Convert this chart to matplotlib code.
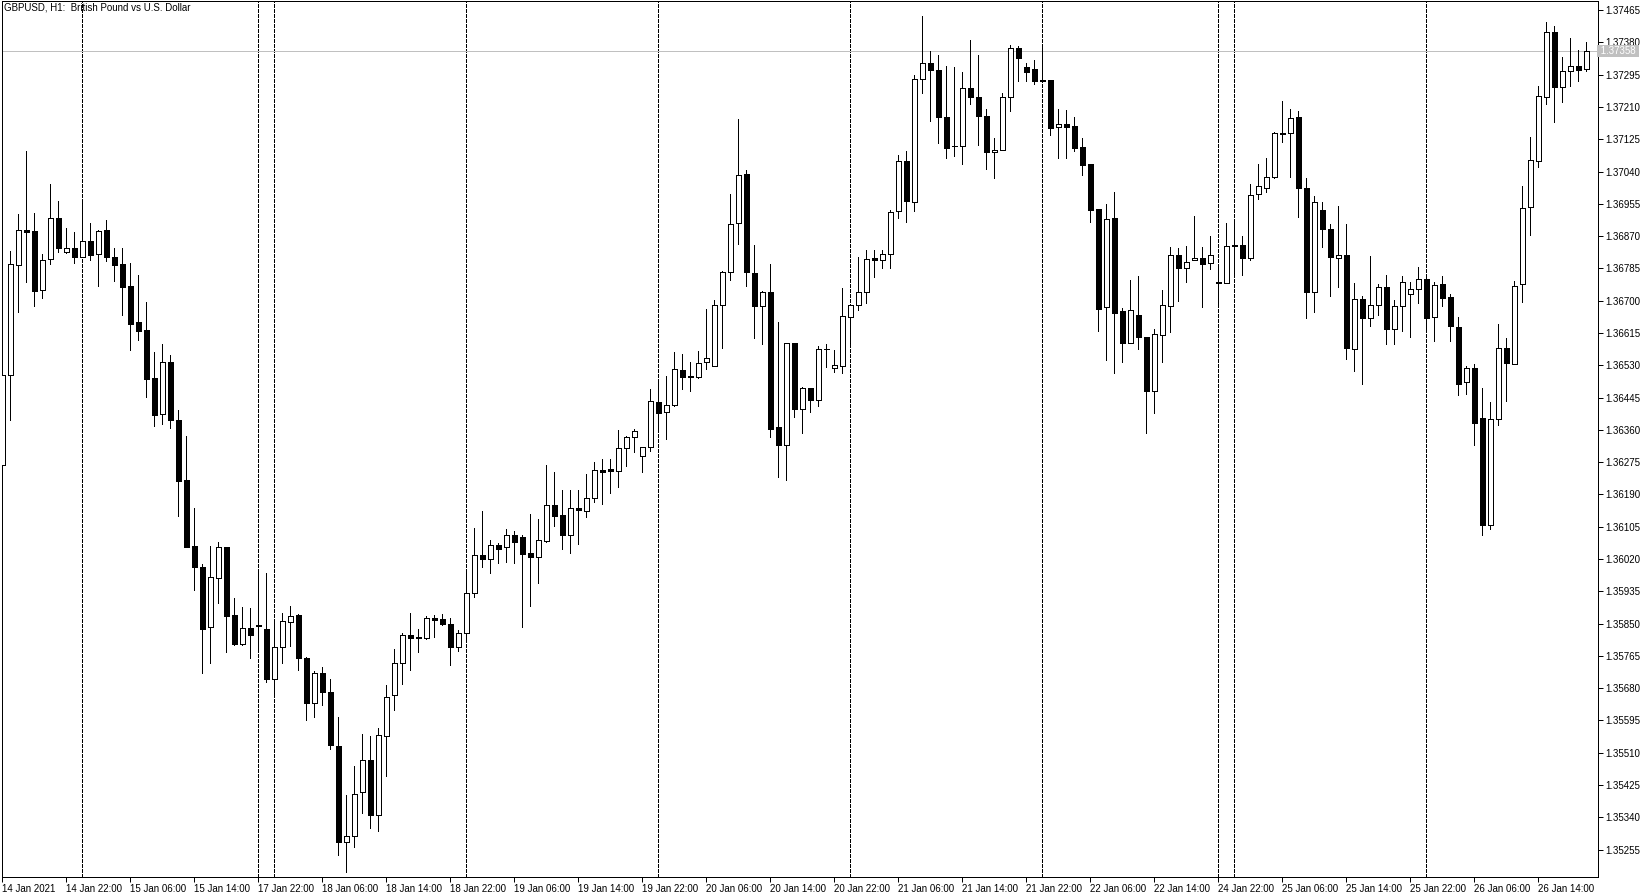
import matplotlib
matplotlib.use("Agg")
import matplotlib.pyplot as plt
import numpy as np

plt.rcParams['font.family'] = ['Liberation Sans Narrow', 'Liberation Sans', 'DejaVu Sans']

# GBPUSD H1, 14 Jan 14:00 .. 26 Jan 20:00
opens = [1.36268, 1.36504, 1.36793, 1.36886, 1.36883, 1.36727, 1.36809, 1.36918, 1.36829, 1.36838,
         1.36816, 1.36856, 1.36822, 1.36886, 1.36815, 1.36797, 1.36739, 1.36644, 1.36623, 1.36496,
         1.36401, 1.36540, 1.36386, 1.36228, 1.36055, 1.35999, 1.35840, 1.35971, 1.36051, 1.35872,
         1.35796, 1.35838, 1.35846, 1.35835, 1.35704, 1.35788, 1.35855, 1.35873, 1.35759, 1.35640,
         1.35719, 1.35669, 1.35528, 1.35276, 1.35292, 1.35406, 1.35491, 1.35345, 1.35555, 1.35661,
         1.35746, 1.35820, 1.35816, 1.35811, 1.35865, 1.35862, 1.35848, 1.35789, 1.35825, 1.35930,
         1.36030, 1.36021, 1.36056, 1.36051, 1.36082, 1.36077, 1.36035, 1.36026, 1.36068, 1.36161,
         1.36135, 1.36084, 1.36154, 1.36146, 1.36180, 1.36254, 1.36256, 1.36252, 1.36312, 1.36341,
         1.36291, 1.36314, 1.36433, 1.36406, 1.36425, 1.36518, 1.36502, 1.36498, 1.36538, 1.36529,
         1.36688, 1.36775, 1.36904, 1.37033, 1.36774, 1.36687, 1.36722, 1.36368, 1.36319, 1.36588,
         1.36416, 1.36469, 1.36439, 1.36572, 1.36522, 1.36529, 1.36658, 1.36690, 1.36724, 1.36813,
         1.36807, 1.36822, 1.36936, 1.37067, 1.36961, 1.37284, 1.37325, 1.37307, 1.37183, 1.37107,
         1.37107, 1.37259, 1.37237, 1.37187, 1.37092, 1.37098, 1.37237, 1.37364, 1.37314, 1.37309,
         1.37282, 1.37281, 1.37156, 1.37164, 1.37159, 1.37104, 1.37060, 1.36941, 1.36683, 1.36919,
         1.36673, 1.36590, 1.36663, 1.36605, 1.36463, 1.36611, 1.36687, 1.36820, 1.36785, 1.36806,
         1.36812, 1.36798, 1.36749, 1.36747, 1.36848, 1.36847, 1.36813, 1.36982, 1.36998, 1.37025,
         1.37142, 1.37142, 1.37183, 1.36998, 1.36724, 1.36940, 1.36890, 1.36812, 1.36820, 1.36572,
         1.36704, 1.36654, 1.36690, 1.36737, 1.36625, 1.36687, 1.36717, 1.36730, 1.36756, 1.36656,
         1.36743, 1.36709, 1.36630, 1.36485, 1.36523, 1.36391, 1.36110, 1.36388, 1.36575, 1.36533,
         1.36744, 1.36946, 1.37068, 1.37236, 1.37407, 1.37263, 1.37304, 1.37317, 1.37311]
highs = [1.36510, 1.36831, 1.36928, 1.37094, 1.36931, 1.36822, 1.37007, 1.36962, 1.36891, 1.36881,
         1.36969, 1.36905, 1.36886, 1.36912, 1.36839, 1.36839, 1.36798, 1.36768, 1.36696, 1.36566,
         1.36585, 1.36557, 1.36412, 1.36344, 1.36154, 1.36006, 1.36054, 1.36065, 1.36053, 1.35917,
         1.35893, 1.35890, 1.35989, 1.35983, 1.35862, 1.35877, 1.35897, 1.35876, 1.35761, 1.35724,
         1.35737, 1.35704, 1.35605, 1.35399, 1.35474, 1.35560, 1.35553, 1.35576, 1.35689, 1.35783,
         1.35826, 1.35879, 1.35835, 1.35870, 1.35873, 1.35875, 1.35864, 1.35833, 1.35991, 1.36101,
         1.36146, 1.36070, 1.36062, 1.36098, 1.36094, 1.36083, 1.36139, 1.36125, 1.36268, 1.36249,
         1.36202, 1.36202, 1.36202, 1.36244, 1.36276, 1.36283, 1.36283, 1.36360, 1.36344, 1.36362,
         1.36314, 1.36467, 1.36493, 1.36502, 1.36564, 1.36560, 1.36538, 1.36568, 1.36678, 1.36702,
         1.36778, 1.36981, 1.37178, 1.37045, 1.36847, 1.36726, 1.36796, 1.36644, 1.36590, 1.36590,
         1.36474, 1.36470, 1.36581, 1.36586, 1.36570, 1.36734, 1.36690, 1.36814, 1.36833, 1.36833,
         1.36833, 1.36940, 1.37083, 1.37094, 1.37293, 1.37449, 1.37357, 1.37347, 1.37318, 1.37314,
         1.37303, 1.37386, 1.37347, 1.37206, 1.37129, 1.37248, 1.37373, 1.37370, 1.37325, 1.37335,
         1.37377, 1.37281, 1.37206, 1.37202, 1.37183, 1.37128, 1.37060, 1.36941, 1.36954, 1.36985,
         1.36680, 1.36754, 1.36765, 1.36605, 1.36626, 1.36728, 1.36842, 1.36840, 1.36844, 1.36923,
         1.36842, 1.36870, 1.36794, 1.36904, 1.36904, 1.36870, 1.37006, 1.37061, 1.37075, 1.37145,
         1.37226, 1.37204, 1.37200, 1.37022, 1.36975, 1.36960, 1.36902, 1.36950, 1.36902, 1.36746,
         1.36712, 1.36818, 1.36743, 1.36768, 1.36702, 1.36765, 1.36750, 1.36788, 1.36761, 1.36749,
         1.36765, 1.36718, 1.36656, 1.36528, 1.36533, 1.36469, 1.36434, 1.36640, 1.36601, 1.36752,
         1.37003, 1.37131, 1.37266, 1.37435, 1.37422, 1.37342, 1.37391, 1.37361, 1.37380]
lows = [1.36255, 1.36386, 1.36671, 1.36750, 1.36687, 1.36708, 1.36797, 1.36829, 1.36826, 1.36800,
        1.36814, 1.36807, 1.36740, 1.36805, 1.36753, 1.36663, 1.36570, 1.36597, 1.36447, 1.36369,
        1.36376, 1.36366, 1.36132, 1.36051, 1.35939, 1.35721, 1.35746, 1.35905, 1.35776, 1.35794,
        1.35795, 1.35759, 1.35776, 1.35696, 1.35662, 1.35746, 1.35790, 1.35728, 1.35597, 1.35605,
        1.35636, 1.35519, 1.35241, 1.35197, 1.35261, 1.35351, 1.35313, 1.35303, 1.35450, 1.35623,
        1.35691, 1.35728, 1.35774, 1.35809, 1.35816, 1.35846, 1.35741, 1.35779, 1.35809, 1.35921,
        1.36000, 1.35983, 1.36009, 1.36011, 1.36009, 1.35842, 1.35897, 1.35958, 1.36066, 1.36107,
        1.36047, 1.36037, 1.36060, 1.36130, 1.36170, 1.36165, 1.36193, 1.36209, 1.36266, 1.36303,
        1.36250, 1.36305, 1.36360, 1.36336, 1.36423, 1.36468, 1.36463, 1.36497, 1.36519, 1.36528,
        1.36576, 1.36754, 1.36849, 1.36740, 1.36603, 1.36586, 1.36340, 1.36237, 1.36228, 1.36395,
        1.36353, 1.36408, 1.36424, 1.36526, 1.36512, 1.36509, 1.36583, 1.36676, 1.36693, 1.36763,
        1.36785, 1.36785, 1.36919, 1.36906, 1.36935, 1.37247, 1.37174, 1.37114, 1.37077, 1.37081,
        1.37059, 1.37218, 1.37111, 1.37046, 1.37024, 1.37096, 1.37200, 1.37279, 1.37279, 1.37270,
        1.37278, 1.37136, 1.37075, 1.37076, 1.37095, 1.37032, 1.36908, 1.36619, 1.36544, 1.36509,
        1.36540, 1.36588, 1.36572, 1.36353, 1.36405, 1.36540, 1.36617, 1.36700, 1.36750, 1.36806,
        1.36684, 1.36783, 1.36691, 1.36747, 1.36772, 1.36768, 1.36807, 1.36968, 1.36987, 1.37024,
        1.37118, 1.37026, 1.36921, 1.36654, 1.36671, 1.36842, 1.36712, 1.36737, 1.36546, 1.36516,
        1.36481, 1.36633, 1.36662, 1.36586, 1.36586, 1.36621, 1.36605, 1.36693, 1.36627, 1.36595,
        1.36687, 1.36595, 1.36451, 1.36455, 1.36320, 1.36083, 1.36098, 1.36372, 1.36435, 1.36533,
        1.36697, 1.36872, 1.37053, 1.37219, 1.37170, 1.37222, 1.37266, 1.37278, 1.37304]
closes = [1.36504, 1.36797, 1.36886, 1.36882, 1.36726, 1.36806, 1.36918, 1.36838, 1.36838, 1.36816,
          1.36856, 1.36820, 1.36884, 1.36816, 1.36795, 1.36737, 1.36638, 1.36621, 1.36495, 1.36400,
          1.36540, 1.36387, 1.36226, 1.36053, 1.36000, 1.35837, 1.35972, 1.36051, 1.35871, 1.35797,
          1.35838, 1.35819, 1.35843, 1.35704, 1.35789, 1.35857, 1.35871, 1.35759, 1.35640, 1.35719,
          1.35671, 1.35531, 1.35276, 1.35291, 1.35402, 1.35491, 1.35345, 1.35557, 1.35656, 1.35746,
          1.35820, 1.35811, 1.35813, 1.35864, 1.35860, 1.35848, 1.35789, 1.35825, 1.35930, 1.36030,
          1.36019, 1.36056, 1.36047, 1.36082, 1.36066, 1.36034, 1.36026, 1.36069, 1.36161, 1.36133,
          1.36084, 1.36154, 1.36148, 1.36180, 1.36255, 1.36250, 1.36251, 1.36312, 1.36341, 1.36356,
          1.36314, 1.36435, 1.36404, 1.36425, 1.36519, 1.36500, 1.36498, 1.36535, 1.36548, 1.36688,
          1.36776, 1.36901, 1.37032, 1.36776, 1.36687, 1.36722, 1.36363, 1.36319, 1.36588, 1.36416,
          1.36469, 1.36439, 1.36572, 1.36573, 1.36532, 1.36660, 1.36690, 1.36722, 1.36809, 1.36807,
          1.36822, 1.36933, 1.37067, 1.36963, 1.37284, 1.37325, 1.37307, 1.37183, 1.37103, 1.37107,
          1.37259, 1.37237, 1.37187, 1.37092, 1.37098, 1.37237, 1.37364, 1.37340, 1.37303, 1.37279,
          1.37279, 1.37155, 1.37164, 1.37158, 1.37103, 1.37058, 1.36939, 1.36677, 1.36914, 1.36669,
          1.36588, 1.36676, 1.36604, 1.36463, 1.36612, 1.36689, 1.36820, 1.36785, 1.36803, 1.36812,
          1.36797, 1.36820, 1.36746, 1.36844, 1.36845, 1.36813, 1.36978, 1.37002, 1.37025, 1.37142,
          1.37138, 1.37180, 1.36998, 1.36724, 1.36960, 1.36890, 1.36816, 1.36820, 1.36575, 1.36704,
          1.36654, 1.36690, 1.36737, 1.36625, 1.36687, 1.36750, 1.36730, 1.36756, 1.36655, 1.36741,
          1.36708, 1.36634, 1.36481, 1.36523, 1.36377, 1.36110, 1.36388, 1.36575, 1.36536, 1.36738,
          1.36943, 1.37071, 1.37238, 1.37407, 1.37263, 1.37304, 1.37317, 1.37307, 1.37358]

tick_pos = [0, 8, 16, 24, 32, 40, 48, 56, 64, 72, 80, 88, 96, 104, 112, 120, 128, 136, 144,
            152, 160, 168, 176, 184, 192]
tick_labels = ["14 Jan 2021", "14 Jan 22:00", "15 Jan 06:00", "15 Jan 14:00", "17 Jan 22:00",
               "18 Jan 06:00", "18 Jan 14:00", "18 Jan 22:00", "19 Jan 06:00", "19 Jan 14:00",
               "19 Jan 22:00", "20 Jan 06:00", "20 Jan 14:00", "20 Jan 22:00", "21 Jan 06:00",
               "21 Jan 14:00", "21 Jan 22:00", "22 Jan 06:00", "22 Jan 14:00", "24 Jan 22:00",
               "25 Jan 06:00", "25 Jan 14:00", "25 Jan 22:00", "26 Jan 06:00", "26 Jan 14:00"]
day_separators = [10, 32, 34, 58, 82, 106, 130, 152, 154, 178]
price_ticks = [1.35255, 1.35340, 1.35425, 1.35510, 1.35595, 1.35680, 1.35765, 1.35850, 1.35935,
               1.36020, 1.36105, 1.36190, 1.36275, 1.36360, 1.36445, 1.36530, 1.36615, 1.36700,
               1.36785, 1.36870, 1.36955, 1.37040, 1.37125, 1.37210, 1.37295, 1.37380, 1.37465]
last_price = 1.37358
title = "GBPUSD, H1:  British Pound vs U.S. Dollar"

W, H = 1650, 896
fig = plt.figure(figsize=(W / 100, H / 100), dpi=100)
# plot frame in pixels: x 2..1598, y 1..877
ax = fig.add_axes([2 / W, 1 - 877 / H, 1596 / W, 876 / H])

o = np.array(opens)
h = np.array(highs)
l = np.array(lows)
c = np.array(closes)
idx = np.arange(len(o))
up = c >= o

for s in day_separators:
    ax.axvline(s, color='black', lw=0.72, linestyle=(0, (3, 2)), zorder=1, antialiased=False)

ax.axhline(last_price, color='#c0c0c0', lw=0.72, zorder=1.5, antialiased=False)

ax.vlines(idx, l, h, color='black', lw=0.72, zorder=2, antialiased=False)
ax.bar(idx, np.abs(c - o), bottom=np.minimum(o, c), width=0.55,
       color=np.where(up, 'white', 'black'), edgecolor='black', linewidth=0.72,
       zorder=3, antialiased=False)

ax.set_xlim(-0.04, 199.46)
ax.set_ylim(1.35183, 1.37489)

for sp in ax.spines.values():
    sp.set_color('black')
    sp.set_linewidth(0.72)

ax.yaxis.tick_right()
ax.set_yticks(price_ticks)
ax.set_yticklabels([f"{p:.5f}" for p in price_ticks])
ax.tick_params(axis='y', length=3.5, width=0.72, pad=1.5, labelsize=7, colors='black')

ax.set_xticks(tick_pos)
ax.set_xticklabels(tick_labels, ha='left')
ax.tick_params(axis='x', length=3.5, width=0.72, pad=1.5, labelsize=7, colors='black')

ax.text(1.0, last_price, " 1.37358 ", transform=ax.get_yaxis_transform(),
        ha='left', va='center', fontsize=7, color='white', zorder=10, clip_on=False,
        bbox=dict(boxstyle='square,pad=0.1', fc='#c0c0c0', ec='none'))

fig.text(4 / W, 1 - 8 / H, title, ha='left', va='center', fontsize=7, color='black')

fig.savefig('out.png', dpi=100)
